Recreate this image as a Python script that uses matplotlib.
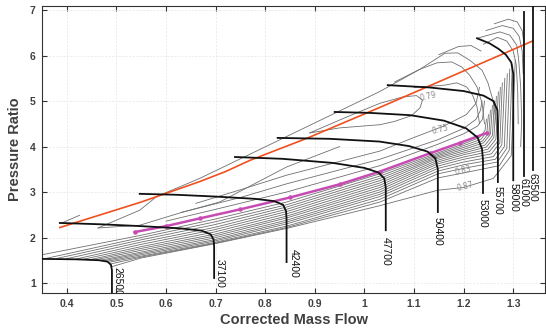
import matplotlib
matplotlib.use("Agg")
import matplotlib.pyplot as plt

# ---- speed lines (corrected speed, rpm) ----
speed_labels = ["26500", "37100", "42400", "47700", "50400", "53000", "55700", "58000", "61000", "63500"]
speed_lines = [
    [(0.35, 1.53), (0.42, 1.52), (0.465, 1.50), (0.482, 1.47), (0.489, 1.40), (0.491, 1.28), (0.491, 0.60)],
    [(0.386, 2.32), (0.47, 2.29), (0.55, 2.25), (0.63, 2.20), (0.672, 2.15), (0.690, 2.07), (0.696, 1.95), (0.697, 1.80), (0.697, 1.11)],
    [(0.547, 2.96), (0.62, 2.94), (0.70, 2.90), (0.78, 2.85), (0.818, 2.80), (0.836, 2.72), (0.842, 2.58), (0.843, 2.40), (0.843, 1.46)],
    [(0.739, 3.77), (0.835, 3.73), (0.936, 3.64), (1.000, 3.53), (1.028, 3.43), (1.040, 3.30), (1.043, 3.10), (1.043, 2.16)],
    [(0.825, 4.19), (0.93, 4.17), (1.03, 4.11), (1.09, 4.01), (1.127, 3.89), (1.143, 3.74), (1.148, 3.50), (1.148, 2.56)],
    [(0.94, 4.76), (1.011, 4.74), (1.092, 4.69), (1.160, 4.57), (1.205, 4.40), (1.228, 4.20), (1.237, 3.95), (1.239, 3.70), (1.239, 2.98)],
    [(1.047, 5.35), (1.13, 5.30), (1.200, 5.22), (1.240, 5.12), (1.260, 5.00), (1.268, 4.80), (1.269, 4.50), (1.269, 3.22)],
    [(1.227, 6.38), (1.252, 6.27), (1.270, 6.15), (1.285, 6.02), (1.296, 5.85), (1.300, 5.60), (1.300, 3.26)],
    [(1.321, 6.96), (1.321, 3.35)],
    [(1.339, 7.09), (1.339, 3.48)],
]
# label centre (flow, pressure ratio) for each speed line
speed_label_pos = [(0.503, 1.04), (0.709, 1.22), (0.857, 1.42), (1.043, 1.69), (1.148, 2.13), (1.239, 2.54),
                   (1.269, 2.81), (1.300, 2.88), (1.321, 2.98), (1.339, 3.10)]

# ---- surge line and operating line ----
surge_flow = [0.386, 0.55, 0.668, 0.72, 0.77, 0.886, 1.031, 1.339]
surge_pr = [2.22, 2.78, 3.23, 3.45, 3.70, 4.19, 4.86, 6.32]
op_flow = [0.537, 0.60, 0.668, 0.75, 0.85, 0.95, 1.031, 1.132, 1.192, 1.247]
op_pr = [2.12, 2.25, 2.42, 2.62, 2.88, 3.17, 3.45, 3.85, 4.08, 4.30]

# ---- efficiency contours ----
# lower family: below the operating line, bending up into the choke region
fan_lines = [
    [(0.35, 1.62), (0.55, 2.05), (0.697, 2.40), (0.843, 2.78), (1.031, 3.40), (1.148, 3.86), (1.20, 4.06), (1.232, 4.20), (1.243, 4.35), (1.246, 4.6)],
    [(0.36, 1.545), (0.55, 2.00), (0.697, 2.34), (0.843, 2.72), (1.031, 3.35), (1.148, 3.83), (1.20, 4.02), (1.235, 4.16), (1.247, 4.33), (1.250, 4.7)],
    [(0.38, 1.54), (0.55, 1.95), (0.697, 2.28), (0.843, 2.67), (1.031, 3.30), (1.148, 3.80), (1.20, 3.98), (1.238, 4.12), (1.251, 4.30), (1.254, 4.8)],
    [(0.40, 1.535), (0.55, 1.90), (0.697, 2.22), (0.843, 2.62), (1.031, 3.25), (1.148, 3.77), (1.20, 3.94), (1.240, 4.08), (1.254, 4.27), (1.258, 4.9)],
    [(0.42, 1.53), (0.55, 1.85), (0.697, 2.17), (0.843, 2.57), (1.031, 3.20), (1.148, 3.74), (1.20, 3.90), (1.243, 4.03), (1.258, 4.24), (1.262, 5.0)],
    [(0.435, 1.525), (0.55, 1.80), (0.697, 2.12), (0.843, 2.52), (1.031, 3.15), (1.148, 3.70), (1.20, 3.86), (1.246, 3.99), (1.261, 4.20), (1.266, 5.1)],
    [(0.45, 1.52), (0.55, 1.76), (0.697, 2.07), (0.843, 2.47), (1.031, 3.10), (1.148, 3.66), (1.20, 3.82), (1.249, 3.94), (1.265, 4.16), (1.270, 5.2)],
    [(0.46, 1.515), (0.55, 1.72), (0.697, 2.03), (0.843, 2.43), (1.031, 3.05), (1.148, 3.62), (1.20, 3.77), (1.252, 3.89), (1.269, 4.12), (1.274, 5.3)],
    [(0.47, 1.505), (0.55, 1.68), (0.697, 1.99), (0.843, 2.38), (1.031, 3.00), (1.148, 3.57), (1.20, 3.72), (1.256, 3.84), (1.273, 4.08), (1.278, 5.4)],
    [(0.477, 1.495), (0.55, 1.65), (0.697, 1.95), (0.843, 2.34), (1.031, 2.95), (1.148, 3.52), (1.20, 3.66), (1.260, 3.78), (1.277, 4.04), (1.283, 5.5)],
    [(0.483, 1.48), (0.55, 1.62), (0.697, 1.92), (0.843, 2.30), (1.031, 2.90), (1.148, 3.46), (1.20, 3.60), (1.264, 3.72), (1.282, 4.00), (1.288, 5.6)],
    [(0.487, 1.46), (0.55, 1.59), (0.697, 1.89), (0.843, 2.25), (1.031, 2.84), (1.148, 3.40), (1.20, 3.52), (1.268, 3.66), (1.287, 3.96), (1.293, 5.7)],
    [(0.489, 1.42), (0.55, 1.57), (0.697, 1.87), (0.843, 2.22), (1.031, 2.78), (1.148, 3.31), (1.20, 3.42), (1.272, 3.58), (1.292, 3.92), (1.298, 5.8)],
    [(0.491, 1.36), (0.55, 1.55), (0.697, 1.86), (0.843, 2.20), (1.031, 2.70), (1.148, 3.04), (1.20, 3.10), (1.26, 3.30), (1.296, 3.80), (1.304, 5.9)],
]
# upper family: above the operating line, turning over near choke
upper_lines = [
    [(0.60, 2.36), (0.70, 2.62), (0.843, 3.00), (1.031, 3.58), (1.148, 4.05), (1.20, 4.28), (1.228, 4.45), (1.238, 4.6), (1.242, 5.0)],
    [(0.63, 2.55), (0.75, 2.88), (0.843, 3.18), (1.031, 3.72), (1.148, 4.15), (1.20, 4.40), (1.225, 4.6), (1.234, 4.8), (1.237, 5.0)],
    [(0.66, 2.75), (0.75, 3.05), (0.843, 3.37), (1.031, 3.90), (1.10, 4.20), (1.160, 4.45), (1.205, 4.70), (1.225, 4.95), (1.232, 5.3)],
    [(0.463, 2.21), (0.547, 2.27), (0.628, 2.54), (0.708, 2.78), (0.843, 3.55), (0.95, 4.00)],
    [(0.463, 2.21), (0.547, 2.60), (0.581, 2.90), (0.668, 3.30), (0.843, 4.22), (1.031, 5.21), (1.112, 5.70), (1.162, 6.05), (1.188, 6.06),
     (1.212, 5.90), (1.237, 5.68), (1.249, 5.40), (1.259, 5.02), (1.265, 4.58), (1.268, 4.2)],
    [(1.061, 5.42), (1.112, 5.70), (1.146, 5.84), (1.176, 5.86), (1.196, 5.75), (1.212, 5.57), (1.227, 5.31), (1.237, 4.96), (1.242, 4.5)],
    [(1.10, 5.30), (1.162, 5.35), (1.186, 5.40), (1.206, 5.31), (1.218, 5.13), (1.227, 4.87), (1.232, 4.5)],
    [(1.227, 6.38), (1.273, 6.52), (1.293, 6.45), (1.307, 6.23), (1.311, 5.90), (1.315, 5.31), (1.317, 4.58), (1.315, 4.0)],
    [(1.240, 6.25), (1.268, 6.40), (1.287, 6.32), (1.300, 6.10), (1.306, 5.80), (1.309, 5.2), (1.310, 4.5)],
    [(1.245, 6.55), (1.278, 6.66), (1.300, 6.60), (1.312, 6.42), (1.318, 6.10), (1.320, 5.6)],
    [(1.262, 6.70), (1.290, 6.80), (1.308, 6.74), (1.318, 6.55), (1.321, 6.3)],
    [(1.150, 6.02), (1.190, 6.20), (1.215, 6.22), (1.235, 6.10)],
    [(0.39, 2.32), (0.426, 2.49)],
]
# closed island around the 0.79 label
island_079 = [(0.89, 4.30), (0.96, 4.63), (1.031, 4.95), (1.077, 5.09), (1.105, 5.12), (1.117, 5.02), (1.112, 4.85),
              (1.095, 4.68), (1.06, 4.55), (1.031, 4.48), (0.95, 4.41), (0.89, 4.30)]

eff_labels = ["0.79", "0.75", "0.83", "0.87"]
eff_label_pos = [(1.128, 5.09), (1.152, 4.38), (1.198, 3.48), (1.202, 3.11)]

GRAY = "#6f6f6f"
TXT = "#404040"

fig = plt.figure(figsize=(5.46, 3.35), dpi=100)
ax = fig.add_axes([42 / 546, 1 - 293 / 335, 503 / 546, 287 / 335])

for line in fan_lines + upper_lines + [island_079]:
    xs, ys = zip(*line)
    ax.plot(xs, ys, color=GRAY, lw=0.6, solid_joinstyle="round", zorder=2)

for text, (x, y) in zip(eff_labels, eff_label_pos):
    ax.text(x, y, text, fontsize=5.5, color="#8a8a8a", rotation=14, ha="center", va="center", zorder=3)

ax.plot(surge_flow, surge_pr, color="#F0501E", lw=1.2, zorder=4)
ax.plot(op_flow, op_pr, color="#C64BB2", lw=1.8, marker="o", ms=2.2, zorder=4)

for label, line, (lx, ly) in zip(speed_labels, speed_lines, speed_label_pos):
    xs, ys = zip(*line)
    ax.plot(xs, ys, color="#111111", lw=1.3, zorder=5)
    ax.text(lx, ly, label, rotation=270, fontsize=7.5, color="#111111", ha="center", va="center",
            family="Liberation Sans", zorder=6, clip_on=True)

ax.set_xlim(0.35, 1.364)
ax.set_ylim(0.78, 7.09)
ax.set_xticks([0.4, 0.5, 0.6, 0.7, 0.8, 0.9, 1.0, 1.1, 1.2, 1.3])
ax.set_xticklabels(["0.4", "0.5", "0.6", "0.7", "0.8", "0.9", "1", "1.1", "1.2", "1.3"])
ax.set_yticks([1, 2, 3, 4, 5, 6, 7])
ax.grid(True, ls=(0, (3, 2)), lw=0.5, color="#e4e4e4", zorder=0)
ax.tick_params(direction="in", length=3.5, width=0.8, color="#333333", top=True, right=True,
               labelsize=7.5, labelcolor=TXT, pad=4.5)
for lbl in ax.get_xticklabels() + ax.get_yticklabels():
    lbl.set_fontweight("bold")
    lbl.set_family("Liberation Sans")
for sp in ax.spines.values():
    sp.set_color("#333333")
    sp.set_linewidth(0.8)

ax.set_xlabel("Corrected Mass Flow", fontsize=10.5, fontweight="bold", color=TXT, family="Liberation Sans", labelpad=3)
ax.set_ylabel("Pressure Ratio", fontsize=10.5, fontweight="bold", color=TXT, family="Liberation Sans", labelpad=6)

fig.savefig("out.png", dpi=100)
